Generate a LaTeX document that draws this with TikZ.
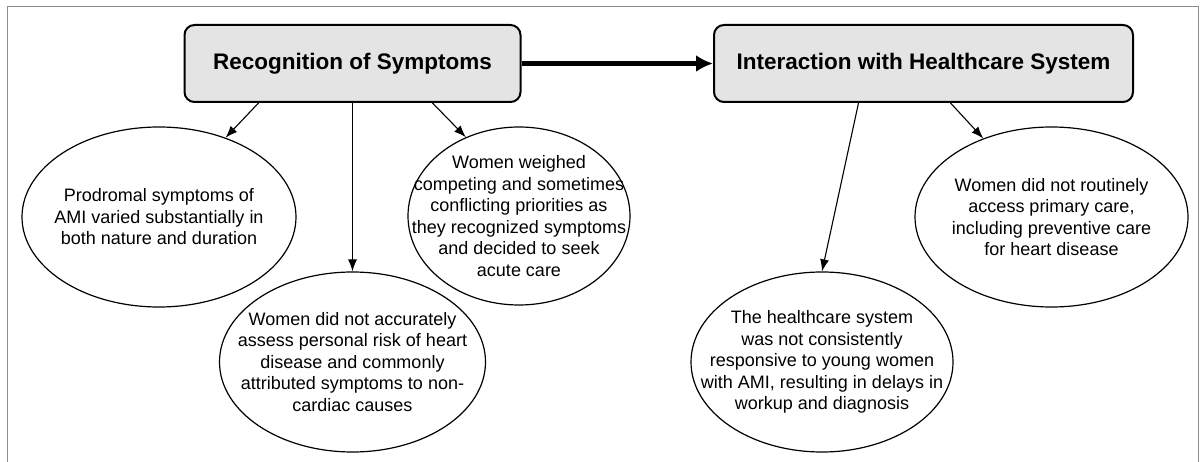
\documentclass[tikz,border=0pt]{standalone}
\usepackage{fontspec}
\setmainfont{Liberation Sans}
\usetikzlibrary{shapes.geometric,arrows.meta}
\definecolor{boxgray}{HTML}{E4E4E4}
\definecolor{framegray}{HTML}{8C8C8C}

\begin{document}
\begin{tikzpicture}[x=1pt,y=-1pt,
  theme/.style={draw,line width=2pt,rounded corners=10pt,fill=boxgray,minimum height=77pt,font=\fontsize{22.5}{27}\selectfont\bfseries},
  finding/.style={draw,ellipse,line width=1.2pt,inner sep=0pt},
  findtext/.style={align=center,font=\fontsize{18}{21.5}\selectfont},
  link/.style={-{Latex[length=12pt,width=9pt]},line width=1.1pt},
  mainlink/.style={-{Latex[length=17pt,width=17pt]},line width=4.5pt}]
\useasboundingbox (0,0) rectangle (1202,462);
\draw[framegray,line width=1pt] (7,462) -- (7,7) -- (1198,7) -- (1198,462);

\node[theme,minimum width=336pt] (rec) at (352.5,63.5) {Recognition of Symptoms};
\node[theme,minimum width=419pt] (hcs) at (923.5,63.5) {Interaction with Healthcare System};

\node[finding,minimum width=274pt,minimum height=180pt,
  label={[findtext]center:Prodromal symptoms of\\AMI varied substantially in\\both nature and duration}] (prodromal) at (159,217) {};
\node[finding,minimum width=266pt,minimum height=180pt,
  label={[findtext]center:Women did not accurately\\assess personal risk of heart\\disease and commonly\\attributed symptoms to non-\\cardiac causes}] (risk) at (352.5,362) {};
\node[finding,minimum width=222pt,minimum height=178pt,
  label={[findtext]center:Women weighed\\competing and sometimes\\conflicting priorities as\\they recognized symptoms\\and decided to seek\\acute care}] (priorities) at (519,216) {};
\node[finding,minimum width=262pt,minimum height=180pt,
  label={[findtext]center:The healthcare system\\was not consistently\\responsive to young women\\with AMI, resulting in delays in\\workup and diagnosis}] (responsive) at (822,362) {};
\node[finding,minimum width=273pt,minimum height=180pt,
  label={[findtext]center:Women did not routinely\\access primary care,\\including preventive care\\for heart disease}] (primary) at (1051.5,217) {};

\draw[mainlink] (rec) -- (hcs);
\draw[link] ([xshift=-94pt]rec.south) -- (prodromal.50);
\draw[link] (rec.south) -- (risk.north);
\draw[link] ([xshift=80pt]rec.south) -- (priorities.124);
\draw[link] ([xshift=-65pt]hcs.south) -- (responsive.north);
\draw[link] ([xshift=27pt]hcs.south) -- (primary.131);
\end{tikzpicture}
\end{document}
